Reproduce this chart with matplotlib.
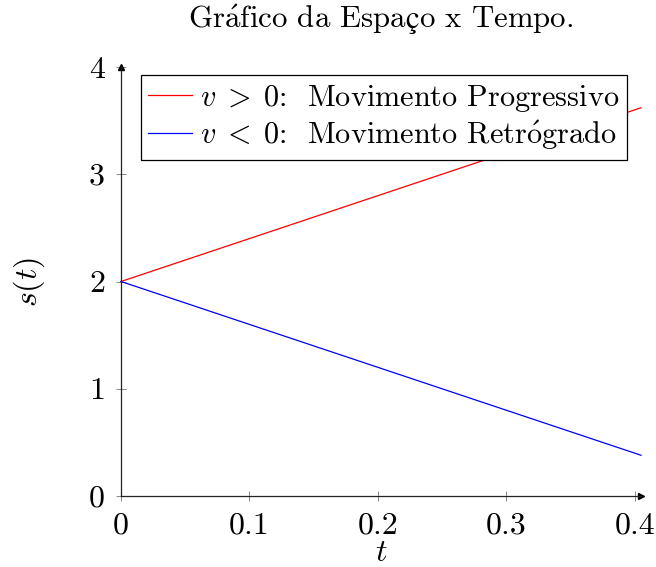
import matplotlib
matplotlib.use("Agg")
import matplotlib.pyplot as plt

t = [0.0, 0.405]
s_prog = [2.0, 3.62]
s_retro = [2.0, 0.38]
xticks = [0, 0.1, 0.2, 0.3, 0.4]
xticklabels = ["0", "0.1", "0.2", "0.3", "0.4"]
yticks = [0, 1, 2, 3, 4]
yticklabels = ["0", "1", "2", "3", "4"]
title = r"Gr$\acute{\mathrm{a}}$fico da Espa$\mathrm{ç}$o x Tempo."
label_prog = r"$v\;>\;0$:  Movimento Progressivo"
label_retro = r"$v\;<\;0$:  Movimento Retr$\acute{\mathrm{o}}$grado"

plt.rcParams['font.family'] = ['cmr10', 'DejaVu Serif']
plt.rcParams['mathtext.fontset'] = 'cm'
plt.rcParams['mathtext.fallback'] = 'stix'
plt.rcParams['axes.formatter.use_mathtext'] = True

fig = plt.figure(figsize=(6.56, 5.67), dpi=100)
ax = fig.add_axes([121/656, 71/567, 520/656, 429/567])

ax.plot(t, s_prog, color='#ff0000', lw=0.9, label=label_prog, clip_on=False)
ax.plot(t, s_retro, color='#0000ff', lw=0.9, label=label_retro, clip_on=False)

ax.set_xlim(0, 0.405)
ax.set_ylim(0, 4.0)
for side in ['top', 'right']:
    ax.spines[side].set_visible(False)
for side in ['left', 'bottom']:
    ax.spines[side].set_color('#222222')
    ax.spines[side].set_linewidth(0.9)

ax.plot(1, 0, '>', color='black', markersize=5, transform=ax.transAxes, clip_on=False)
ax.plot(0, 1.0, '^', color='black', markersize=5, transform=ax.transAxes, clip_on=False)

ax.set_xticks(xticks)
ax.set_xticklabels(xticklabels)
ax.set_yticks(yticks)
ax.set_yticklabels(yticklabels)
ax.tick_params(direction='inout', length=7, width=0.7, color='#888888',
               labelsize=23, pad=8)

fig.text((121 + 641) / 2 / 656, 1 - 28 / 567, title, fontsize=22.2,
         ha='center', va='baseline')
ax.set_xlabel(r"$t$", fontsize=23, labelpad=0)
ax.set_ylabel(r"$s(t)$", fontsize=23, labelpad=30)

leg = ax.legend(loc='upper left', bbox_to_anchor=(0.038, 0.981), borderaxespad=0,
                fancybox=False, edgecolor='black', framealpha=1, fontsize=21.8,
                handlelength=1.45, handletextpad=0.25, labelspacing=0.15,
                borderpad=0.25)
leg.get_frame().set_linewidth(0.9)

fig.savefig("out.png", dpi=100)
